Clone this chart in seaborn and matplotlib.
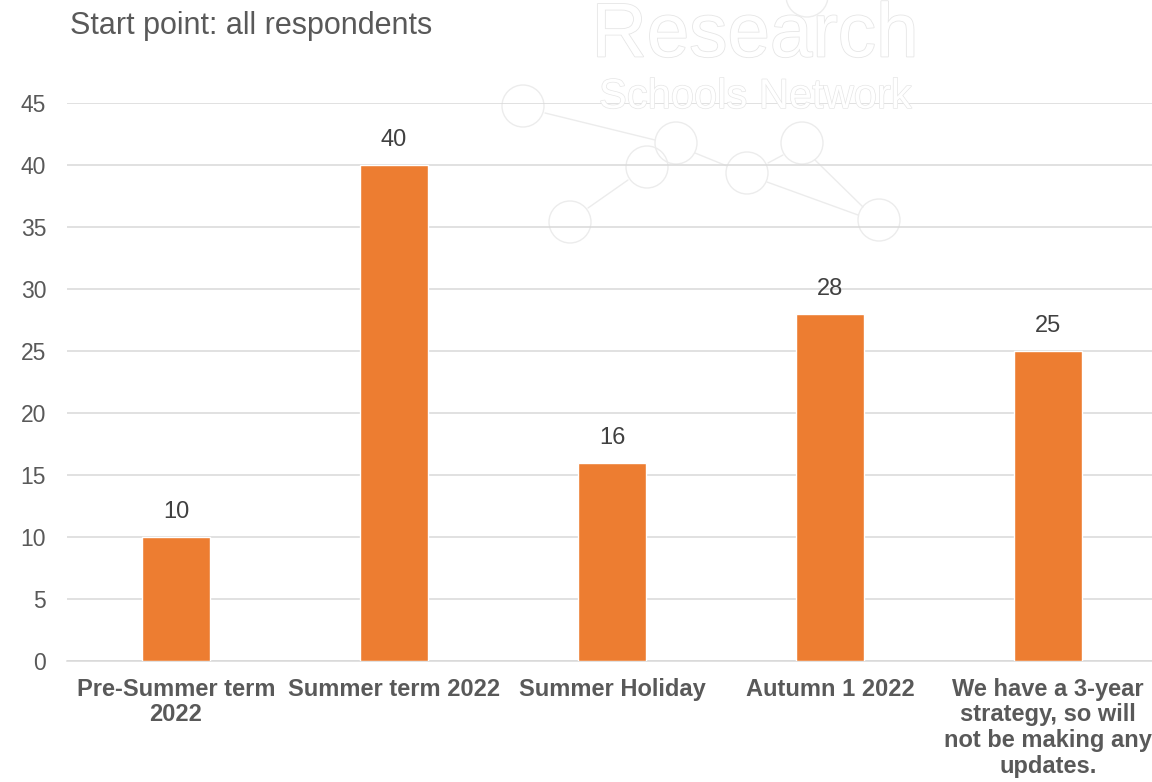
import matplotlib
matplotlib.use("Agg")
import matplotlib.pyplot as plt
import matplotlib.patheffects as pe
from matplotlib.patches import Circle
from matplotlib.lines import Line2D
from matplotlib.transforms import IdentityTransform
import seaborn as sns
import pandas as pd

categories = ["Pre-Summer term\n2022", "Summer term 2022", "Summer Holiday",
              "Autumn 1 2022", "We have a 3-year\nstrategy, so will\nnot be making any\nupdates."]
values = [10, 40, 16, 28, 25]
y_ticks = [0, 5, 10, 15, 20, 25, 30, 35, 40, 45]
title = "Start point: all respondents"

sns.set_theme(style="white")
plt.rcParams['font.family'] = ['Liberation Sans', 'DejaVu Sans']

df = pd.DataFrame({"cat": categories, "val": values})

W, H = 1152, 782
fig = plt.figure(figsize=(W / 100, H / 100), dpi=100)
ax = fig.add_axes([67 / W, 121 / H, 1090 / W, 558 / H])

# faint watermark logo (background decoration)
wm = "#ececec"
fig.text(755 / W, 1 - 37 / H, "Research", ha="center", va="center", fontsize=55,
         color="white", path_effects=[pe.withStroke(linewidth=1.2, foreground="#e6e6e6")], zorder=0)
fig.text(755 / W, 1 - 97 / H, "Schools Network", ha="center", va="center", fontsize=30,
         color="white", path_effects=[pe.withStroke(linewidth=1.0, foreground="#e6e6e6")], zorder=0)
circles = [(523, 106), (676, 143), (647, 167), (747, 173), (802, 143), (570, 222), (879, 220), (807, -4)]
for cx, cy in circles:
    fig.add_artist(Circle((cx, H - cy), 21, transform=IdentityTransform(), fill=False,
                          edgecolor=wm, linewidth=1.0, zorder=0))
segs = [((545, 113), (655, 140)), ((695, 153), (727, 166)), ((767, 182), (858, 215)),
        ((815, 160), (863, 207)), ((588, 208), (628, 180)), ((768, 163), (783, 155))]
for (x0, y0), (x1, y1) in segs:
    fig.add_artist(Line2D([x0, x1], [H - y0, H - y1], transform=IdentityTransform(),
                          color=wm, linewidth=1.0, zorder=0))

sns.barplot(data=df, x="cat", y="val", color="#ED7D31", width=0.31, saturation=1, ax=ax, zorder=3)
ax.patch.set_alpha(0)

ax.set_ylim(0, 45)
ax.set_xlim(-0.5, 4.5)
ax.set_yticks(y_ticks)
ax.set_yticklabels([str(t) for t in y_ticks], fontsize=16.5, color="#595959")
ax.yaxis.grid(True, color="#D9D9D9", linewidth=1.1, zorder=0)
ax.xaxis.grid(False)
for s in ["top", "right", "left"]:
    ax.spines[s].set_visible(False)
ax.spines["bottom"].set_color("#D9D9D9")
ax.spines["bottom"].set_linewidth(1.1)
ax.tick_params(axis="y", length=0, pad=15)
ax.tick_params(axis="x", length=0, pad=12)
ax.set_xlabel("")
ax.set_ylabel("")
for lbl in ax.get_xticklabels():
    lbl.set_fontsize(17)
    lbl.set_fontweight("bold")
    lbl.set_color("#595959")
    lbl.set_linespacing(1.15)

for c in ax.containers:
    ax.bar_label(c, labels=[str(v) for v in values], padding=10, fontsize=17, color="#404040")

fig.text(70 / W, 1 - 26 / H, title, ha="left", va="center", fontsize=22, color="#595959")

fig.savefig("out.png", dpi=100)
